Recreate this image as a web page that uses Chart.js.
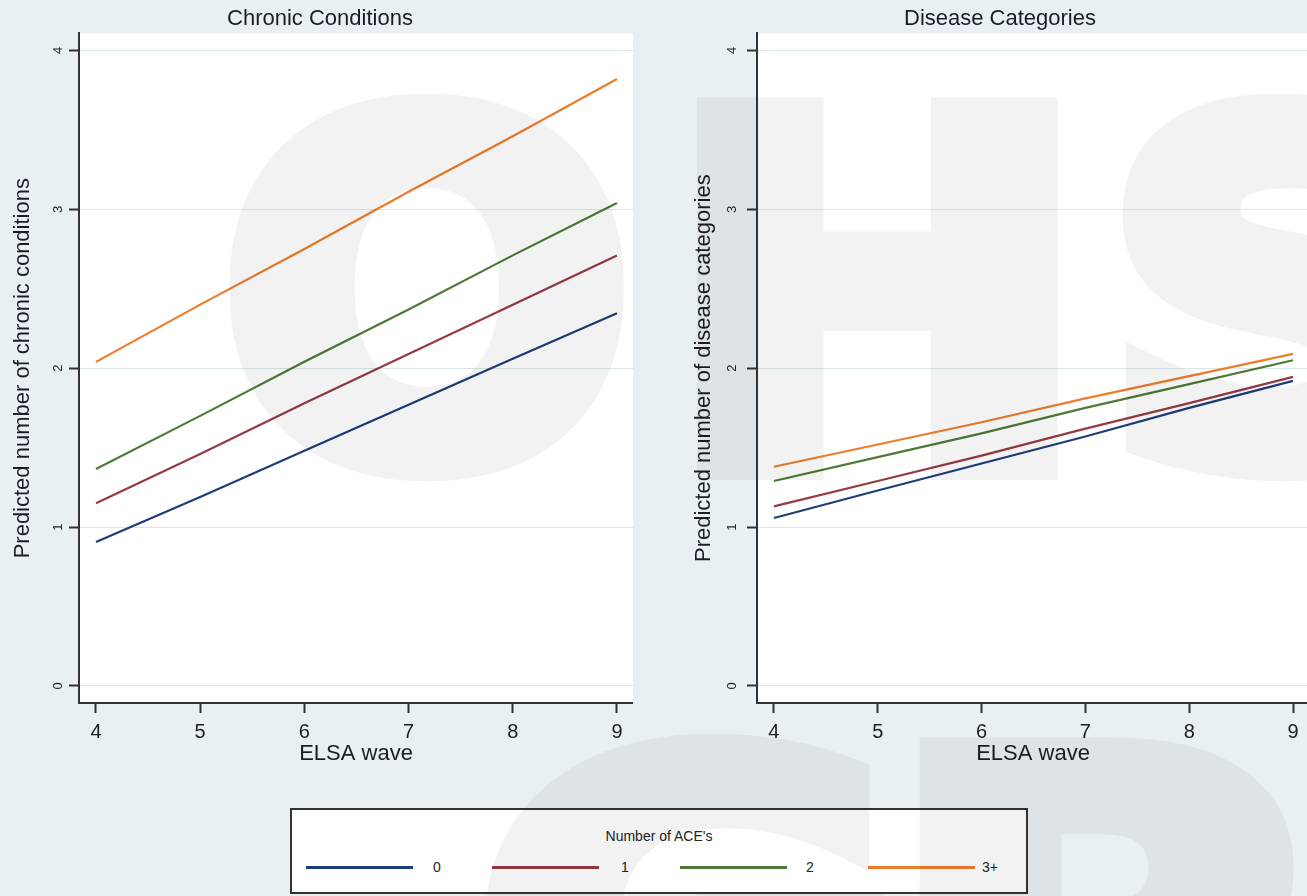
<!DOCTYPE html>
<html><head><meta charset="utf-8">
<script src="https://cdn.jsdelivr.net/npm/chart.js@4.4.1/dist/chart.umd.min.js"></script>
<style>
html,body{margin:0;padding:0;background:#e9f0f3;width:1307px;height:896px;overflow:hidden;position:relative;font-family:"Liberation Sans",Arial,sans-serif;}
#c1{position:absolute;left:0;top:0;}
#c2{position:absolute;left:691px;top:0;}
#legend{position:absolute;left:290px;top:808px;width:734px;height:82px;border:2px solid #333;background:#fff;}
#lgTitle{position:absolute;left:0;top:18px;width:100%;text-align:center;font-size:14px;line-height:16px;color:#222;}
.lgLine{position:absolute;height:3px;}
.lgLab{position:absolute;font-size:14px;line-height:16px;color:#222;transform:translateX(-50%);}
#wm{position:absolute;left:0;top:0;pointer-events:none;}
</style></head><body>
<canvas id="c1" width="633" height="790"></canvas>
<canvas id="c2" width="618" height="790"></canvas>
<div id="legend"><div id="lgTitle">Number of ACE's</div></div>
<canvas id="wm" width="1307" height="896"></canvas>
<script>
// ---- data ----
const waves = [4, 5, 6, 7, 8, 9];
const xTicks = [4, 5, 6, 7, 8, 9];
const yTicks = [0, 1, 2, 3, 4];
const seriesLabels = ['0', '1', '2', '3+'];
const chronic0 = [0.906, 1.19, 1.48, 1.77, 2.06, 2.346];
const chronic1 = [1.15, 1.46, 1.78, 2.09, 2.40, 2.71];
const chronic2 = [1.365, 1.70, 2.04, 2.37, 2.71, 3.04];
const chronic3 = [2.04, 2.40, 2.75, 3.11, 3.46, 3.82];
const disease0 = [1.057, 1.23, 1.40, 1.57, 1.75, 1.92];
const disease1 = [1.13, 1.29, 1.45, 1.62, 1.78, 1.945];
const disease2 = [1.29, 1.44, 1.59, 1.75, 1.90, 2.05];
const disease3 = [1.38, 1.52, 1.66, 1.81, 1.95, 2.09];
const colors = ['#1f3d7a', '#963a44', '#4e7a35', '#ee7d2b'];

const FONT = '"Liberation Sans", Arial, sans-serif';
const TXT = '#1c1c26';

const plotBg = {
  id: 'plotBg',
  beforeDraw(chart) {
    const {ctx, chartArea: {left, top, right, bottom}} = chart;
    ctx.save();
    ctx.fillStyle = '#ffffff';
    ctx.fillRect(left, top, right - left, bottom - top);
    ctx.restore();
  }
};

function makeChart(id, title, yTitle, arrays, cfg) {
  const datasets = arrays.map((arr, k) => ({
    label: seriesLabels[k],
    data: waves.map((w, i) => ({x: w, y: arr[i]})),
    borderColor: colors[k],
    borderWidth: 2.2,
    pointRadius: 0,
    tension: 0,
    fill: false
  }));
  return new Chart(document.getElementById(id), {
    type: 'line',
    data: {datasets},
    plugins: [plotBg],
    options: {
      responsive: false,
      animation: false,
      layout: {padding: {left: cfg.padL, right: 0, top: 0, bottom: 0}},
      plugins: {
        legend: {display: false},
        tooltip: {enabled: false},
        title: {
          display: true, text: title, color: TXT,
          font: {family: FONT, size: 22, weight: 'normal'},
          padding: {top: 6, bottom: 1}
        }
      },
      scales: {
        x: {
          type: 'linear', min: 3.837, max: 9.154,
          afterBuildTicks: s => { s.ticks = xTicks.map(v => ({value: v})); },
          afterFit: s => { s.height = 87; },
          grid: {drawOnChartArea: false, drawTicks: true, tickLength: 10, tickColor: '#333', tickWidth: 2},
          border: {color: '#333', width: 2},
          ticks: {color: TXT, font: {family: FONT, size: 20}, padding: 7, maxRotation: 0, minRotation: 0},
          title: {display: true, text: 'ELSA wave', color: TXT, font: {family: FONT, size: 22}, padding: {top: 0, bottom: 23}}
        },
        y: {
          type: 'linear', min: -0.107, max: 4.107,
          afterBuildTicks: s => { s.ticks = yTicks.map(v => ({value: v})); },
          afterFit: s => { s.width = cfg.yw; },
          grid: {color: '#dbe6eb', lineWidth: 1, drawTicks: true, tickLength: 10, tickColor: '#333', tickWidth: 2},
          border: {color: '#333', width: 2},
          ticks: {color: TXT, font: {family: FONT, size: 13}, padding: cfg.tp, minRotation: 90, maxRotation: 90, crossAlign: 'center'},
          title: {display: true, text: yTitle, color: TXT, font: {family: FONT, size: 22}, padding: {top: cfg.ttp, bottom: 0}}
        }
      }
    }
  });
}

makeChart('c1', 'Chronic Conditions', 'Predicted number of chronic conditions',
  [chronic0, chronic1, chronic2, chronic3], {padL: 7, yw: 72, tp: 7, ttp: 3});
makeChart('c2', 'Disease Categories', 'Predicted number of disease categories',
  [disease0, disease1, disease2, disease3], {padL: 0, yw: 66, tp: 11, ttp: 0});

// ---- legend ----
const lg = document.getElementById('legend');
const lineLefts = [14, 200, 388, 576];
const labCenters = [145, 333, 518, 698];
seriesLabels.forEach((lab, k) => {
  const ln = document.createElement('div');
  ln.className = 'lgLine';
  ln.style.left = lineLefts[k] + 'px';
  ln.style.top = '56px';
  ln.style.width = '107px';
  ln.style.background = colors[k];
  lg.appendChild(ln);
  const t = document.createElement('div');
  t.className = 'lgLab';
  t.style.left = labCenters[k] + 'px';
  t.style.top = '49px';
  t.textContent = lab;
  lg.appendChild(t);
});

// ---- watermark (decorative background text) ----
const off = document.createElement('canvas');
off.width = 1307; off.height = 896;
const oc = off.getContext('2d');
oc.fillStyle = '#000';
oc.strokeStyle = '#000';
oc.lineJoin = 'miter';
oc.miterLimit = 4;
const LW = 32;
function letter(ch, x0, y0, x1, y1, sxFixed) {
  oc.save();
  oc.font = 'bold 500px "DejaVu Sans"';
  const m = oc.measureText(ch);
  const w = m.actualBoundingBoxLeft + m.actualBoundingBoxRight + LW;
  const h = m.actualBoundingBoxAscent + m.actualBoundingBoxDescent + LW;
  const sy = (y1 - y0) / h;
  const sx = sxFixed || (x1 - x0) / w;
  oc.translate(x0, y0);
  oc.scale(sx, sy);
  const tx = m.actualBoundingBoxLeft + LW / 2, ty = m.actualBoundingBoxAscent + LW / 2;
  oc.fillText(ch, tx, ty);
  oc.lineWidth = LW;
  oc.strokeText(ch, tx, ty);
  oc.restore();
  return sx;
}
letter('O', 228, 90, 630, 482);
const sH = letter('H', 690, 95, 1060, 480);
letter('S', 1118, 90, 0, 482, sH);
letter('G', 483, 730, 885, 1122);
letter('P', 912, 735, 1300, 1120);
const wm = document.getElementById('wm').getContext('2d');
wm.globalAlpha = 0.05;
wm.drawImage(off, 0, 0);
</script>
</body></html>
